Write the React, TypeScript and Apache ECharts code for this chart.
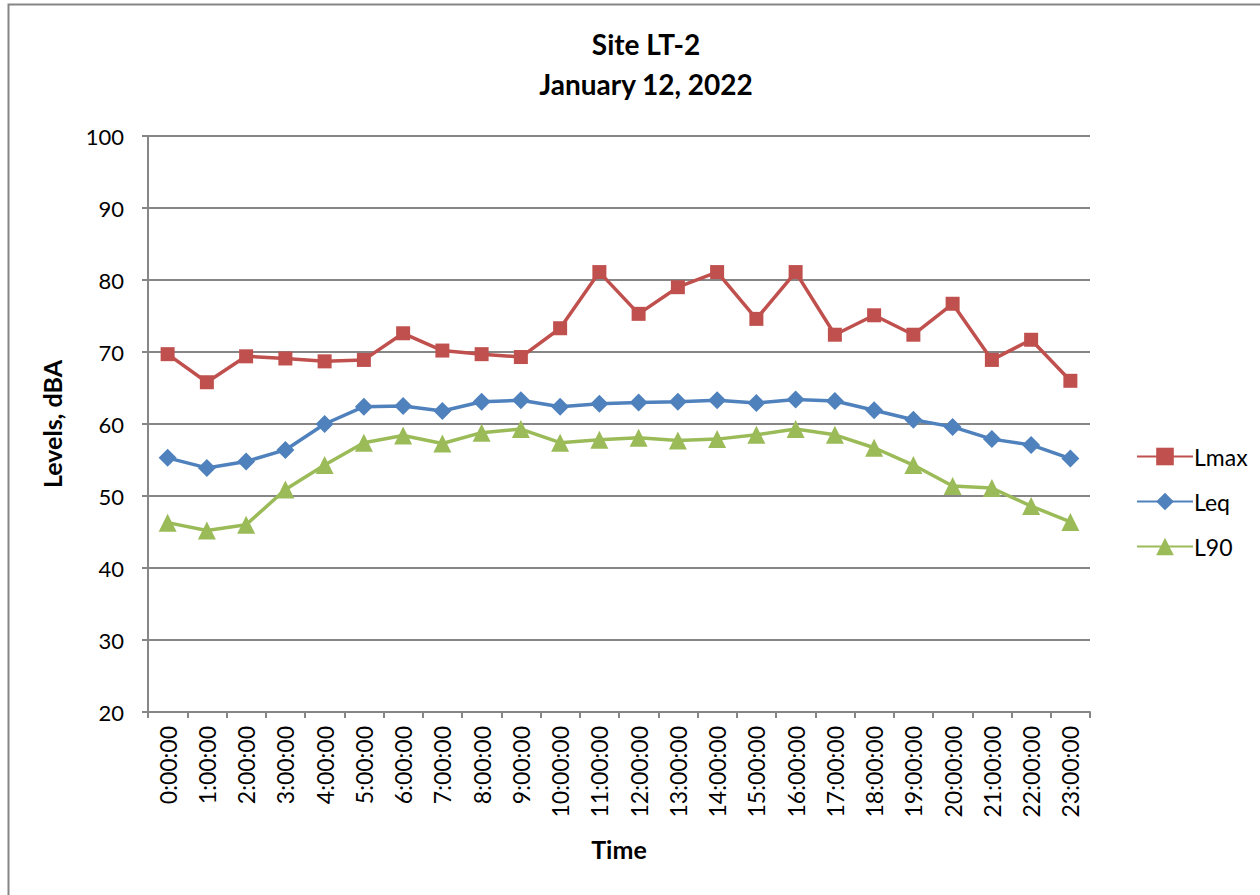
import React, { useEffect, useRef } from "react";
import * as echarts from "echarts";

const categories = [
  "0:00:00", "1:00:00", "2:00:00", "3:00:00", "4:00:00", "5:00:00",
  "6:00:00", "7:00:00", "8:00:00", "9:00:00", "10:00:00", "11:00:00",
  "12:00:00", "13:00:00", "14:00:00", "15:00:00", "16:00:00", "17:00:00",
  "18:00:00", "19:00:00", "20:00:00", "21:00:00", "22:00:00", "23:00:00",
];

const lmax = [
  69.7, 65.8, 69.4, 69.1, 68.7, 68.9, 72.6, 70.2, 69.7, 69.3, 73.3, 81.1,
  75.3, 79.0, 81.1, 74.6, 81.1, 72.4, 75.1, 72.4, 76.7, 68.9, 71.7, 66.0,
];

const leq = [
  55.3, 53.9, 54.8, 56.4, 60.0, 62.4, 62.5, 61.8, 63.1, 63.3, 62.4, 62.8,
  63.0, 63.1, 63.3, 62.9, 63.4, 63.2, 61.9, 60.6, 59.6, 57.9, 57.1, 55.2,
];

const l90 = [
  46.3, 45.2, 46.0, 50.9, 54.3, 57.4, 58.4, 57.3, 58.8, 59.3, 57.4, 57.8,
  58.1, 57.7, 57.9, 58.5, 59.3, 58.5, 56.7, 54.3, 51.4, 51.1, 48.6, 46.4,
];

const FONT = "Lato";

export default function App() {
  const ref = useRef<HTMLDivElement>(null);
  useEffect(() => {
    if (!ref.current) return;
    const chart = echarts.init(ref.current, undefined, { renderer: "svg" });
    const mk = (name: string, data: number[], color: string, symbol: string, size: number) => ({
      name,
      type: "line",
      data,
      symbol,
      symbolSize: size,
      showSymbol: true,
      lineStyle: { color, width: 3.5 },
      itemStyle: { color },
      emphasis: { disabled: true },
    });
    chart.setOption({
      animation: false,
      backgroundColor: "#ffffff",
      textStyle: { fontFamily: FONT },
      title: {
        text: "Site LT-2\nJanuary 12, 2022",
        left: 641,
        top: 19,
        textAlign: "center",
        textStyle: { fontFamily: FONT, fontSize: 28, fontWeight: "bold", color: "#000", lineHeight: 40 },
      },
      graphic: [
        {
          type: "rect",
          shape: { x: 8.5, y: 4.5, width: 1300, height: 1000 },
          style: { fill: "none", stroke: "#868686", lineWidth: 2 },
          silent: true,
        },
      ],
      legend: {
        orient: "vertical",
        left: 1131,
        top: 440,
        itemWidth: 56,
        itemHeight: 22,
        itemGap: 22,
        data: ["Lmax", "Leq", "L90"],
        textStyle: { fontFamily: FONT, fontSize: 23, color: "#000", padding: [0, 0, 0, -4] },
      },
      grid: { left: 148, right: 170, top: 136, bottom: 183 },
      xAxis: {
        type: "category",
        data: categories,
        boundaryGap: true,
        name: "Time",
        nameLocation: "middle",
        nameGap: 124,
        nameTextStyle: { fontFamily: FONT, fontSize: 25, fontWeight: "bold", color: "#000" },
        axisLine: { lineStyle: { color: "#868686", width: 2 } },
        axisTick: { show: true, alignWithLabel: false, interval: 0, length: 6, lineStyle: { color: "#868686", width: 2 } },
        axisLabel: { interval: 0, rotate: 90, margin: 14, fontFamily: FONT, fontSize: 23, color: "#000" },
        splitLine: { show: false },
      },
      yAxis: {
        type: "value",
        min: 20,
        max: 100,
        interval: 10,
        name: "Levels, dBA",
        nameLocation: "middle",
        nameGap: 84,
        nameTextStyle: { fontFamily: FONT, fontSize: 25, fontWeight: "bold", color: "#000" },
        axisLine: { show: true, lineStyle: { color: "#868686", width: 2 } },
        axisTick: { show: true, length: 6, lineStyle: { color: "#868686", width: 2 } },
        axisLabel: { margin: 24, fontFamily: FONT, fontSize: 22, color: "#000" },
        splitLine: { show: true, lineStyle: { color: "#868686", width: 2 } },
      },
      series: [
        mk("Lmax", lmax, "#C0504D", "rect", 14),
        mk("Leq", leq, "#4F81BD", "diamond", 18),
        mk("L90", l90, "#9BBB59", "triangle", 18),
      ],
    });
    return () => chart.dispose();
  }, []);
  return (
    <div
      ref={ref}
      style={{ position: "absolute", left: 0, top: 0, width: 1260, height: 895 }}
    />
  );
}
